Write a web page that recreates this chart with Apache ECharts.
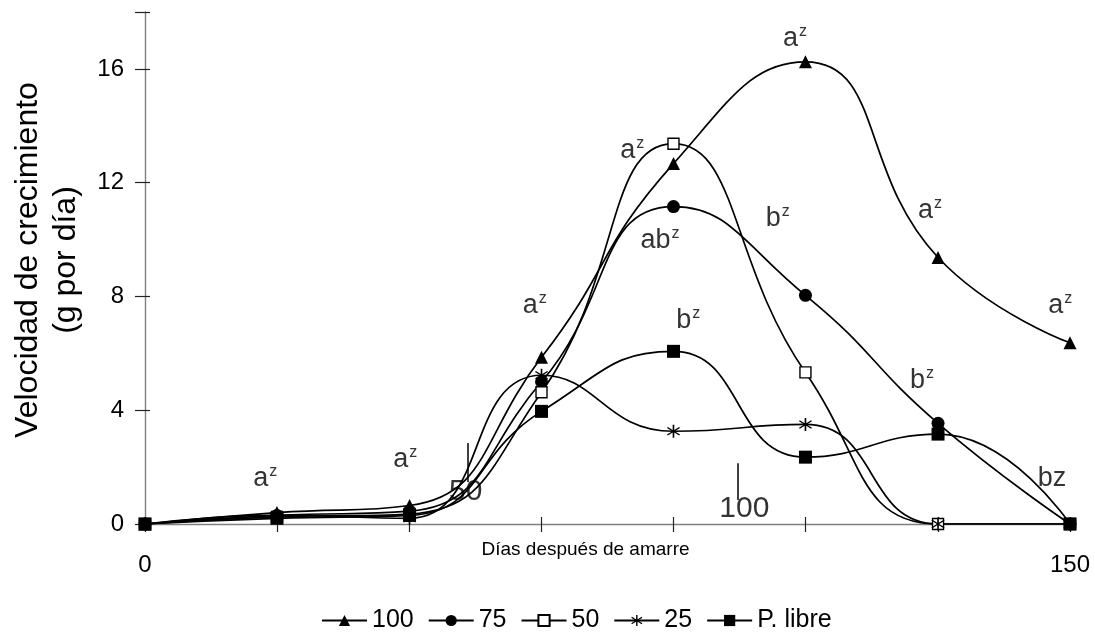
<!DOCTYPE html>
<html><head><meta charset="utf-8">
<script src="https://cdn.jsdelivr.net/npm/echarts@6/dist/echarts.min.js"></script>
<style>html,body{margin:0;padding:0;background:#fff}#c{width:1095px;height:640px}</style>
</head><body><div id="c"></div>
<script>
var days = [0, 21.4, 42.9, 64.3, 85.7, 107.1, 128.6, 150];
var s100 = [0, 0.40, 0.65, 5.86, 12.67, 16.25, 9.37, 6.37];
var s75 = [0, 0.30, 0.45, 5.00, 11.16, 8.04, 3.54, 0];
var s50 = [0, 0.25, 0.35, 4.63, 13.37, 5.33, 0, 0];
var s25 = [0, 0.30, 0.20, 5.23, 3.26, 3.50, 0, 0];
var sLibre = [0, 0.20, 0.30, 3.96, 6.07, 2.35, 3.16, 0];
var seriesNames = ['100', '75', '50', '25', 'P. libre'];
var yTicks = [0, 4, 8, 12, 16];
var xTickLabels = ['0', '150'];

// significance letters: [day, value, text]
var annX = [19.5, 42.2, 63.2, 79.0, 105.4, 127.3, 148.4, 83.5, 102.6, 88.1, 126.0, 147.1];
var annY = [1.61, 2.25, 7.68, 13.12, 17.05, 11.02, 7.68, 9.96, 10.74, 7.16, 5.05, 1.61];
var annText = ['a^z','a^z','a^z','a^z','a^z','a^z','a^z','ab^z','b^z','b^z','b^z','bz'];
// stray labels in plot
var strayX = [52.0, 97.2];
var strayY = [1.13, 0.53];
var strayText = ['50', '100'];
var strayLineX = [52.3, 96.05];
var strayLineFrom = [1.48, 0.84];
var strayLineTo = [2.85, 2.14];

var star = 'path://M-1.1,-10L1.1,-10L1.1,10L-1.1,10Z M8.76,4.92L7.62,6.56L-8.76,-4.92L-7.62,-6.56Z M7.62,-6.56L8.76,-4.92L-7.62,6.56L-8.76,4.92Z';

function pts(arr){ return arr.map(function(v,i){ return [days[i], v]; }); }
function mk(name, arr, symbol, size, fill){
  return {
    name: name, type: 'line', data: pts(arr), smooth: 0.5,
    symbol: symbol, symbolSize: size, showAllSymbol: true,
    lineStyle: {color: '#000', width: 1.7},
    itemStyle: {color: fill, borderColor: '#000', borderWidth: fill === '#fff' ? 1.4 : 0},
    emphasis: {disabled: true}, z: 3
  };
}

var annData = annX.map(function(x,i){
  var t = annText[i];
  var parts = t.split('^');
  var lbl = parts.length > 1 ? '{m|' + parts[0] + '}{s|' + parts[1] + '}' : '{m|' + parts[0] + '}';
  return {value: [x, annY[i]], label: {formatter: lbl}};
});
var strayData = strayX.map(function(x,i){ return {value: [x, strayY[i]], label: {formatter: '{m|' + strayText[i] + '}'}}; });
var strayLines = strayLineX.map(function(x,i){ return [{coord: [x, strayLineFrom[i]]}, {coord: [x, strayLineTo[i]]}]; });

var FONT = 'Liberation Sans';
var chart = echarts.init(document.getElementById('c'));
chart.setOption({
  animation: false,
  backgroundColor: '#fff',
  grid: {left: 145, right: 25, top: 12, bottom: 116},
  xAxis: [{
    type: 'value', min: 0, max: 150, interval: 150/7,
    name: 'Días después de amarre', nameLocation: 'middle', nameGap: 16, nameMoveOverlap: false,
    nameTextStyle: {fontFamily: FONT, fontSize: 19, color: '#000', padding: [0, 44, 0, 0]},
    axisLine: {lineStyle: {color: '#808080', width: 1.4}},
    axisTick: {show: true, length: 8, lineStyle: {color: '#222', width: 1.2}},
    splitLine: {show: false},
    axisLabel: {
      margin: 29, fontFamily: FONT, fontSize: 24, color: '#000',
      formatter: function(v){ if (Math.abs(v) < 0.01) return xTickLabels[0]; if (Math.abs(v-150) < 0.01) return xTickLabels[1]; return ''; }
    }
  }, {
    type: 'value', min: 0, max: 150, interval: 150/7, position: 'bottom', offset: 0,
    axisLine: {show: false}, axisLabel: {show: false}, splitLine: {show: false},
    axisTick: {show: true, inside: true, length: 7, lineStyle: {color: '#222', width: 1.2}}
  }],
  yAxis: [{
    type: 'value', min: 0, max: 18, interval: 4,
    name: 'Velocidad de crecimiento\n(g por día)', nameLocation: 'middle', nameGap: 60, nameRotate: 90,
    nameTextStyle: {fontFamily: FONT, fontSize: 32, color: '#000', lineHeight: 38, padding: [0, 0, 0, 16]},
    axisLine: {show: true, lineStyle: {color: '#808080', width: 1.4}},
    axisTick: {show: true, length: 10, lineStyle: {color: '#222', width: 1.2}},
    splitLine: {show: false},
    axisLabel: {margin: 21, fontFamily: FONT, fontSize: 24, color: '#000',
      formatter: function(v){ return yTicks.indexOf(v) >= 0 ? String(v) : ''; }}
  }, {
    type: 'value', min: 0, max: 18, interval: 4, position: 'left', offset: 0,
    axisLine: {show: false}, axisLabel: {show: false}, splitLine: {show: false},
    axisTick: {show: true, inside: true, length: 5, lineStyle: {color: '#222', width: 1.2}}
  }],
  legend: {
    bottom: 2, left: 316, itemWidth: 45, itemHeight: 14, itemGap: 14,
    data: seriesNames,
    textStyle: {fontFamily: FONT, fontSize: 25, color: '#000'}
  },
  series: [
    mk(seriesNames[0], s100, 'triangle', 13, '#000'),
    mk(seriesNames[1], s75, 'circle', 13, '#000'),
    mk(seriesNames[2], s50, 'rect', 11, '#fff'),
    mk(seriesNames[3], s25, star, 13, '#000'),
    mk(seriesNames[4], sLibre, 'rect', 13, '#000'),
    {
      name: 'ann', type: 'scatter', data: annData, symbolSize: 1, itemStyle: {color: 'rgba(0,0,0,0)'},
      silent: true, z: 5,
      label: {show: true, position: 'inside', color: '#000',
        rich: {
          m: {fontFamily: FONT, fontSize: 27, lineHeight: 30, color: '#000'},
          s: {fontFamily: FONT, fontSize: 16, lineHeight: 30, verticalAlign: 'top', color: '#000', padding: [0,0,14,1]}
        }}
    },
    {
      name: 'stray', type: 'scatter', data: strayData, symbolSize: 1, itemStyle: {color: 'rgba(0,0,0,0)'},
      silent: true, z: 5,
      label: {show: true, position: 'inside', color: '#000',
        rich: {m: {fontFamily: FONT, fontSize: 30, lineHeight: 32, color: '#000'}}},
      markLine: {
        silent: true, symbol: 'none', label: {show: false},
        lineStyle: {color: '#000', type: 'solid', width: 1.5},
        data: strayLines
      }
    }
  ]
});
</script></body></html>
